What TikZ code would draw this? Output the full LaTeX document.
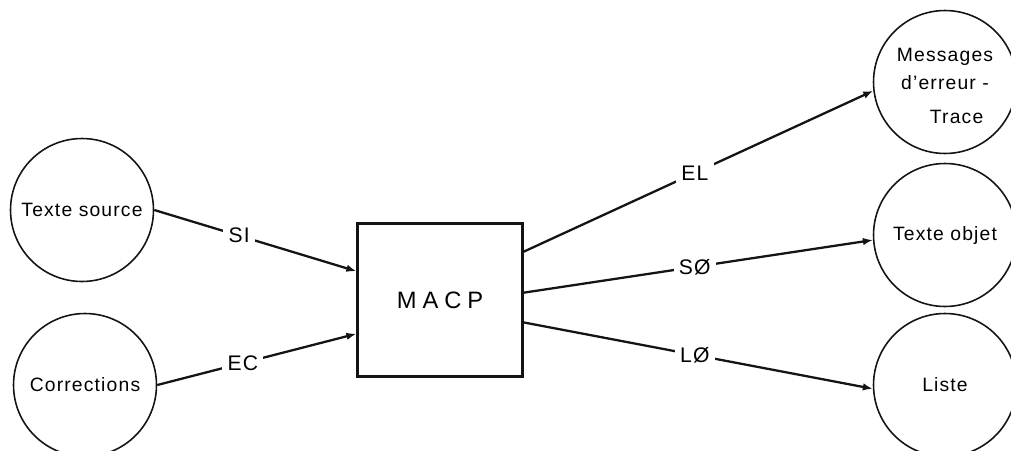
\documentclass[tikz,border=0pt]{standalone}
\usepackage{fontspec}
\setmainfont{Liberation Sans}[LetterSpace=6]
\usepackage{tikz}
\usetikzlibrary{
  arrows.meta,
  positioning
}
\definecolor{scanInk}{RGB}{20,20,20}
\tikzset{
  fileCircle/.style={
    circle,
    draw=scanInk,
    line width=0.9pt,
    minimum size=2.86cm,
    inner sep=0pt,
    align=center,
    font=\fontsize{11}{16}\selectfont
  },
  macpBox/.style={
    rectangle,
    draw=scanInk,
    line width=1.3pt,
    minimum width=3.3cm,
    minimum height=3.06cm,
    font=\fontsize{13.5}{14}\selectfont\addfontfeature{LetterSpace=25}
  },
  flowArrow/.style={
    -{Latex[length=2mm,width=1.5mm]},
    line width=1.3pt,
    draw=scanInk
  },
  flowLabel/.style={
    fill=white,
    inner sep=3pt,
    font=\fontsize{12}{14}\selectfont
  }
}

\begin{document}
\begin{tikzpicture}[x=0.02cm, y=-0.02cm]
  \useasboundingbox (0,0) rectangle (1011,450);
  \clip (0,0) rectangle (1011,450);

  % inputs, processor, outputs
  \node[fileCircle] (source) at (82,210) {Texte source};
  \node[fileCircle] (corr) at (85,385) {Corrections};
  \node[macpBox] (macp) at (440,300) {MACP};
  \node[fileCircle] (msg) at (945,82) {\mbox{}\\[-4pt]Messages\\d'erreur -\\[3pt]\hspace{1.2em}Trace};
  \node[fileCircle] (obj) at (945,235) {Texte objet};
  \node[fileCircle] (liste) at (945,385) {Liste};

  \draw[flowArrow] (source.east) -- node[flowLabel, pos=0.42] {SI} (macp.161);
  \draw[flowArrow] (corr.east) -- node[flowLabel, pos=0.43] {EC} (macp.202);
  \draw[flowArrow] (macp.30) -- node[flowLabel, pos=0.49] {EL} (msg.187);
  \draw[flowArrow] (macp.5) -- node[flowLabel, pos=0.49] {SØ} (obj.184);
  \draw[flowArrow] (macp.-15) -- node[flowLabel, pos=0.49] {LØ} (liste.183);
\end{tikzpicture}
\end{document}
